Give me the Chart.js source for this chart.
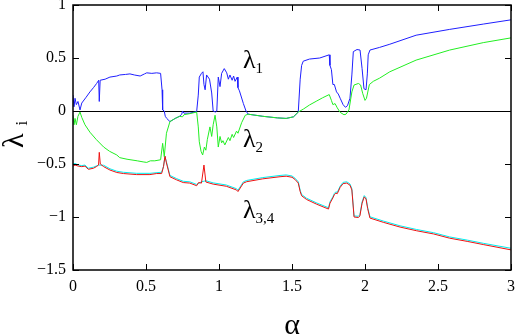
<!DOCTYPE html>
<html>
<head>
<meta charset="utf-8">
<script src="https://cdn.jsdelivr.net/npm/chart.js@4/dist/chart.umd.min.js"></script>
<style>
html,body{margin:0;padding:0;background:#fff;}
canvas{display:block;}
</style>
</head>
<body>
<canvas id="c" width="518" height="336"></canvas>
<script>
/* ---- data ---- */

const xTicks=[0,0.5,1,1.5,2,2.5,3];
const yTicks=[-1.5,-1,-0.5,0,0.5,1];

// lambda 1 (blue)
const l1X=[0,0.007,0.014,0.023,0.034,0.048,0.06,0.09,0.116,0.14,0.162,0.176,0.18,0.186,0.22,0.253,0.30,0.32,0.36,0.39,0.42,0.46,0.49,0.505,0.54,0.573,0.60,0.61,0.614,0.625,0.632,0.642,0.664,0.70,0.73,0.745,0.75,0.76,0.80,0.847,0.858,0.865,0.88,0.89,0.897,0.905,0.915,0.935,0.95,0.96,0.975,0.985,0.995,1.007,1.018,1.036,1.053,1.064,1.075,1.09,1.10,1.11,1.125,1.13,1.14,1.167,1.185,1.2,1.3,1.4,1.46,1.51,1.543,1.556,1.566,1.577,1.62,1.69,1.755,1.76,1.77,1.78,1.79,1.805,1.817,1.83,1.85,1.866,1.88,1.897,1.91,1.92,1.945,1.966,1.98,1.993,2.007,2.016,2.022,2.034,2.1,2.17,2.35,2.58,2.81,3.0];
const l1Y=[0.15,0.04,0.12,0.06,0.09,0.01,0.075,0.13,0.18,0.22,0.26,0.29,0.09,0.29,0.30,0.32,0.33,0.34,0.345,0.35,0.34,0.33,0.35,0.36,0.355,0.36,0.355,0.2,0.01,0.0,-0.05,-0.07,-0.10,-0.07,-0.05,-0.03,0.0,-0.02,-0.02,-0.005,0.15,0.32,0.355,0.37,0.25,0.2,0.34,0.3,0.17,0.0,-0.01,0.0,0.32,0.23,0.355,0.40,0.36,0.30,0.34,0.29,0.33,0.28,0.32,0.22,0.19,0.07,0.0,-0.03,-0.05,-0.065,-0.07,-0.055,-0.01,0.3,0.43,0.47,0.49,0.50,0.53,0.43,0.39,0.25,0.25,0.18,0.16,0.12,0.06,0.035,0.05,0.12,0.34,0.56,0.58,0.575,0.40,0.21,0.2,0.35,0.53,0.575,0.60,0.63,0.715,0.77,0.82,0.86];

// lambda 2 (green)
const l2X=[0,0.007,0.014,0.023,0.034,0.048,0.06,0.082,0.116,0.16,0.21,0.25,0.30,0.32,0.37,0.44,0.48,0.505,0.53,0.56,0.60,0.614,0.625,0.64,0.664,0.70,0.73,0.75,0.76,0.80,0.847,0.858,0.865,0.877,0.888,0.90,0.91,0.92,0.938,0.95,0.96,0.973,0.985,0.995,1.007,1.018,1.027,1.04,1.064,1.075,1.09,1.10,1.12,1.13,1.155,1.18,1.20,1.3,1.4,1.46,1.51,1.543,1.58,1.62,1.67,1.71,1.755,1.77,1.78,1.795,1.81,1.83,1.856,1.87,1.89,1.91,1.925,1.955,1.97,1.984,2.0,2.01,2.03,2.057,2.10,2.17,2.35,2.58,2.81,3.0];
const l2Y=[-0.04,-0.13,-0.07,-0.13,-0.05,-0.01,-0.06,-0.13,-0.2,-0.27,-0.34,-0.38,-0.415,-0.44,-0.455,-0.47,-0.48,-0.485,-0.47,-0.47,-0.46,-0.305,-0.43,-0.21,-0.10,-0.07,-0.05,-0.055,-0.035,-0.025,-0.01,-0.15,-0.29,-0.38,-0.415,-0.34,-0.37,-0.27,-0.15,-0.24,-0.13,-0.04,-0.15,-0.34,-0.24,-0.30,-0.28,-0.32,-0.25,-0.28,-0.22,-0.25,-0.19,-0.21,-0.11,-0.04,-0.03,-0.05,-0.065,-0.07,-0.055,-0.01,0.02,0.057,0.095,0.125,0.155,0.10,0.06,0.07,0.03,-0.013,-0.035,-0.03,0.01,0.18,0.245,0.26,0.245,0.167,0.10,0.12,0.25,0.28,0.31,0.37,0.48,0.575,0.645,0.69];

// lambda 3 (red)
const l3X=[0,0.014,0.036,0.06,0.082,0.105,0.14,0.16,0.175,0.18,0.187,0.21,0.253,0.30,0.345,0.436,0.527,0.573,0.607,0.62,0.63,0.64,0.664,0.71,0.755,0.80,0.847,0.86,0.88,0.897,0.91,0.96,1.05,1.12,1.13,1.167,1.19,1.30,1.418,1.46,1.50,1.52,1.543,1.556,1.566,1.60,1.67,1.75,1.76,1.78,1.79,1.80,1.81,1.83,1.85,1.875,1.897,1.91,1.925,1.955,1.965,1.98,1.995,2.007,2.018,2.034,2.125,2.24,2.354,2.47,2.58,2.70,2.81,3.0];
const l3Y=[-0.52,-0.51,-0.52,-0.525,-0.52,-0.55,-0.54,-0.525,-0.51,-0.39,-0.50,-0.525,-0.557,-0.58,-0.59,-0.60,-0.60,-0.59,-0.59,-0.525,-0.425,-0.49,-0.62,-0.65,-0.675,-0.68,-0.705,-0.675,-0.68,-0.51,-0.67,-0.69,-0.71,-0.745,-0.76,-0.68,-0.667,-0.64,-0.62,-0.615,-0.625,-0.645,-0.68,-0.76,-0.80,-0.835,-0.88,-0.925,-0.87,-0.82,-0.79,-0.775,-0.78,-0.72,-0.685,-0.68,-0.70,-0.745,-1.0,-1.005,-0.99,-0.87,-0.81,-0.83,-0.92,-1.01,-1.05,-1.095,-1.13,-1.16,-1.20,-1.23,-1.26,-1.31];

// lambda 4 (cyan)
const l4X=[0,0.014,0.036,0.06,0.082,0.105,0.14,0.175,0.21,0.253,0.30,0.345,0.436,0.527,0.607,0.62,0.63,0.64,0.664,0.71,0.755,0.80,0.847,0.88,0.91,0.96,1.05,1.12,1.13,1.167,1.19,1.30,1.418,1.46,1.50,1.52,1.543,1.556,1.566,1.60,1.67,1.75,1.76,1.78,1.79,1.80,1.81,1.83,1.85,1.875,1.897,1.91,1.925,1.955,1.965,1.98,1.995,2.007,2.018,2.034,2.125,2.24,2.354,2.47,2.58,2.70,2.81,3.0];
const l4Y=[-0.50,-0.495,-0.51,-0.515,-0.51,-0.54,-0.53,-0.51,-0.512,-0.545,-0.568,-0.578,-0.588,-0.588,-0.578,-0.52,-0.43,-0.48,-0.608,-0.638,-0.663,-0.668,-0.693,-0.668,-0.658,-0.678,-0.698,-0.733,-0.748,-0.668,-0.655,-0.628,-0.608,-0.603,-0.613,-0.633,-0.668,-0.748,-0.788,-0.823,-0.868,-0.913,-0.858,-0.808,-0.778,-0.763,-0.768,-0.708,-0.673,-0.668,-0.688,-0.733,-0.99,-0.993,-0.978,-0.858,-0.798,-0.818,-0.908,-0.998,-1.038,-1.083,-1.118,-1.148,-1.188,-1.218,-1.248,-1.295];

// curve labels: [text, subscript, x, y] in data units (left edge, baseline)
const curveLabels=[
["\u03bb","1",1.164,0.405],
["\u03bb","2",1.164,-0.34],
["\u03bb","3,4",1.164,-1.01]
];

/* ---- helpers ---- */

const SERIF='"Liberation Serif","DejaVu Serif",serif';

function pts(xs,ys){
return xs.map((x,i)=>({x:x,y:ys[i]}));
}

function fmt(v){
if(v<0) return "\u2212"+Math.abs(v);
return String(v);
}

/* draw frame, inward mirror ticks, titles and curve labels */
const framePlugin={
id:"frame",
beforeDatasetsDraw(chart){
const {ctx,chartArea:a,scales}=chart;
const y0=scales.y.getPixelForValue(0);
ctx.save();
ctx.strokeStyle="#000";
ctx.lineWidth=1;
ctx.beginPath();
ctx.moveTo(a.left,Math.round(y0)+0.5);
ctx.lineTo(a.right,Math.round(y0)+0.5);
ctx.stroke();
ctx.restore();
},
afterDraw(chart){
const {ctx,chartArea:a,scales}=chart;
const sx=scales.x, sy=scales.y;
const tl=6;
ctx.save();
ctx.strokeStyle="#000";
ctx.lineWidth=1.5;
ctx.strokeRect(a.left,a.top,a.right-a.left,a.bottom-a.top);
ctx.lineWidth=1;
ctx.beginPath();
xTicks.forEach(v=>{
const px=Math.round(sx.getPixelForValue(v))+0.5;
ctx.moveTo(px,a.bottom);ctx.lineTo(px,a.bottom-tl);
ctx.moveTo(px,a.top);ctx.lineTo(px,a.top+tl);
});
yTicks.forEach(v=>{
const py=Math.round(sy.getPixelForValue(v))+0.5;
ctx.moveTo(a.left,py);ctx.lineTo(a.left+tl,py);
ctx.moveTo(a.right,py);ctx.lineTo(a.right-tl,py);
});
ctx.stroke();

// curve labels
ctx.fillStyle="#000";
ctx.textBaseline="alphabetic";
ctx.textAlign="left";
curveLabels.forEach(l=>{
const px=sx.getPixelForValue(l[2]);
const py=sy.getPixelForValue(l[3]);
ctx.font="26px "+SERIF;
ctx.fillText(l[0],px,py);
const w=ctx.measureText(l[0]).width;
ctx.font="15px "+SERIF;
ctx.fillText(l[1],px+w,py+5);
});

// x title
ctx.font="30px "+SERIF;
ctx.textAlign="center";
ctx.fillText("\u03b1",(a.left+a.right)/2,334);

// y title, rotated
ctx.translate(23,148);
ctx.rotate(-Math.PI/2);
ctx.textAlign="left";
ctx.font="30px "+SERIF;
ctx.fillText("\u03bb",0,0);
const lw=ctx.measureText("\u03bb").width;
ctx.font="17px "+SERIF;
ctx.fillText("i",lw+8,4);
ctx.restore();
}
};

const tickFont={family:SERIF,size:16};

new Chart(document.getElementById("c"),{
type:"line",
data:{
datasets:[
{label:"l1",data:pts(l1X,l1Y),borderColor:"#1f1fff",order:2},
{label:"l2",data:pts(l2X,l2Y),borderColor:"#22ee22",order:0},
{label:"l3",data:pts(l3X,l3Y),borderColor:"#ee1111",order:1},
{label:"l4",data:pts(l4X,l4Y),borderColor:"#00eeee",order:3}
]
},
options:{
responsive:false,
animation:false,
events:[],
layout:{padding:{top:5,right:7,left:0,bottom:0}},
elements:{
point:{radius:0},
line:{borderWidth:1,tension:0,fill:false}
},
plugins:{legend:{display:false},tooltip:{enabled:false}},
scales:{
x:{
type:"linear",min:0,max:3,
grid:{display:false,drawTicks:false},
border:{display:false},
ticks:{stepSize:0.5,padding:7,color:"#000",font:tickFont,maxRotation:0,callback:fmt},
afterFit(s){s.height=66;s.paddingLeft=0;s.paddingRight=0;}
},
y:{
min:-1.5,max:1,
grid:{display:false,drawTicks:false},
border:{display:false},
ticks:{stepSize:0.5,padding:7,color:"#000",font:tickFont,callback:fmt},
afterFit(s){s.width=73;s.paddingTop=0;s.paddingBottom=0;}
}
}
},
plugins:[framePlugin]
});
</script>
</body>
</html>
